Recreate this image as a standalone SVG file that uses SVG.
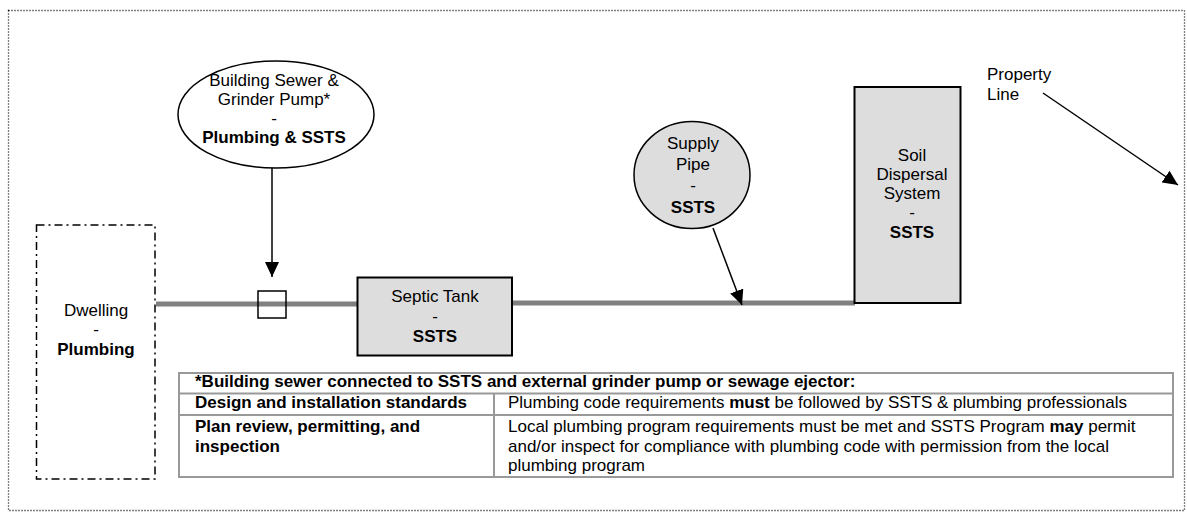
<svg xmlns="http://www.w3.org/2000/svg" width="1187" height="512" viewBox="0 0 1187 512">
<style>
text{font-family:"Liberation Sans",Arial,sans-serif;font-size:17px;fill:#000}
.c{text-anchor:middle}
.b{font-weight:bold}
.box{fill:#dddddd;stroke:#000;stroke-width:2}
.pipe{stroke:#808080;stroke-width:5;fill:none}
.arr{stroke:#000;stroke-width:1.5;fill:none;marker-end:url(#ah)}
.tbl{stroke:#999;stroke-width:2;fill:none}
</style>
<defs>
<marker id="ah" viewBox="0 0 15 14" refX="15" refY="7" markerWidth="15" markerHeight="14" markerUnits="userSpaceOnUse" orient="auto">
<path d="M0,0 L15,7 L0,14 z" fill="#000"/>
</marker>
</defs>
<rect x="8.5" y="10.5" width="1176" height="500" fill="#fff" stroke="#000" stroke-width="1.3" stroke-dasharray="1,2"/>

<g id="connectors">
<line class="pipe" x1="156" y1="304" x2="358" y2="304"/>
<line class="pipe" x1="512" y1="303" x2="855" y2="303"/>
<line class="arr" x1="272" y1="168" x2="272" y2="277"/>
<line class="arr" x1="713" y1="228" x2="742" y2="305"/>
<line class="arr" x1="1043" y1="93" x2="1178" y2="185"/>
</g>

<g id="dwelling">
<rect x="36.5" y="225" width="118.5" height="254" fill="none" stroke="#000" stroke-width="1.5" stroke-dasharray="8,4,2,4"/>
<text class="c" x="96" y="316">Dwelling</text>
<text class="c" x="96" y="335">-</text>
<text class="c b" x="96" y="355">Plumbing</text>
</g>

<g id="grinder-fitting">
<rect x="258" y="291" width="28" height="27" fill="none" stroke="#000" stroke-width="1.5"/>
</g>

<g id="building-sewer">
<ellipse cx="276" cy="114.5" rx="98" ry="53.5" fill="#fff" stroke="#000" stroke-width="1.5"/>
<text class="c" x="274" y="86">Building Sewer &amp;</text>
<text class="c" x="274" y="105">Grinder Pump*</text>
<text class="c" x="274" y="124">-</text>
<text class="c b" x="274" y="143">Plumbing &amp; SSTS</text>
</g>

<g id="septic-tank">
<rect class="box" x="357.5" y="277.5" width="154.5" height="78"/>
<text class="c" x="435" y="302">Septic Tank</text>
<text class="c" x="435" y="322">-</text>
<text class="c b" x="435" y="342">SSTS</text>
</g>

<g id="supply-pipe">
<ellipse cx="692" cy="175" rx="58" ry="53.5" fill="#dddddd" stroke="#000" stroke-width="1.5"/>
<text class="c" x="693" y="149">Supply</text>
<text class="c" x="693" y="170">Pipe</text>
<text class="c" x="693" y="191">-</text>
<text class="c b" x="693" y="213">SSTS</text>
</g>

<g id="soil-dispersal">
<rect class="box" x="854.5" y="87" width="106" height="216"/>
<text class="c" x="912" y="161">Soil</text>
<text class="c" x="912" y="180">Dispersal</text>
<text class="c" x="912" y="199">System</text>
<text class="c" x="912" y="218">-</text>
<text class="c b" x="912" y="238">SSTS</text>
</g>

<g id="property-line">
<text x="987" y="80">Property</text>
<text x="987" y="100">Line</text>
</g>

<g id="table">
<rect class="tbl" x="179" y="373" width="994" height="104"/>
<line class="tbl" x1="179" y1="393.5" x2="1173" y2="393.5"/>
<line class="tbl" x1="179" y1="415" x2="1173" y2="415"/>
<line class="tbl" x1="494" y1="393.5" x2="494" y2="477"/>
<text class="b" x="195" y="387">*Building sewer connected to SSTS and external grinder pump or sewage ejector:</text>
<text class="b" x="195" y="408">Design and installation standards</text>
<text x="508" y="408">Plumbing code requirements <tspan class="b">must</tspan> be followed by SSTS &amp; plumbing professionals</text>
<text class="b" x="195" y="432">Plan review, permitting, and</text>
<text class="b" x="195" y="452">inspection</text>
<text x="508" y="432">Local plumbing program requirements must be met and SSTS Program <tspan class="b">may</tspan> permit</text>
<text x="508" y="452">and/or inspect for compliance with plumbing code with permission from the local</text>
<text x="508" y="471">plumbing program</text>
</g>
</svg>
